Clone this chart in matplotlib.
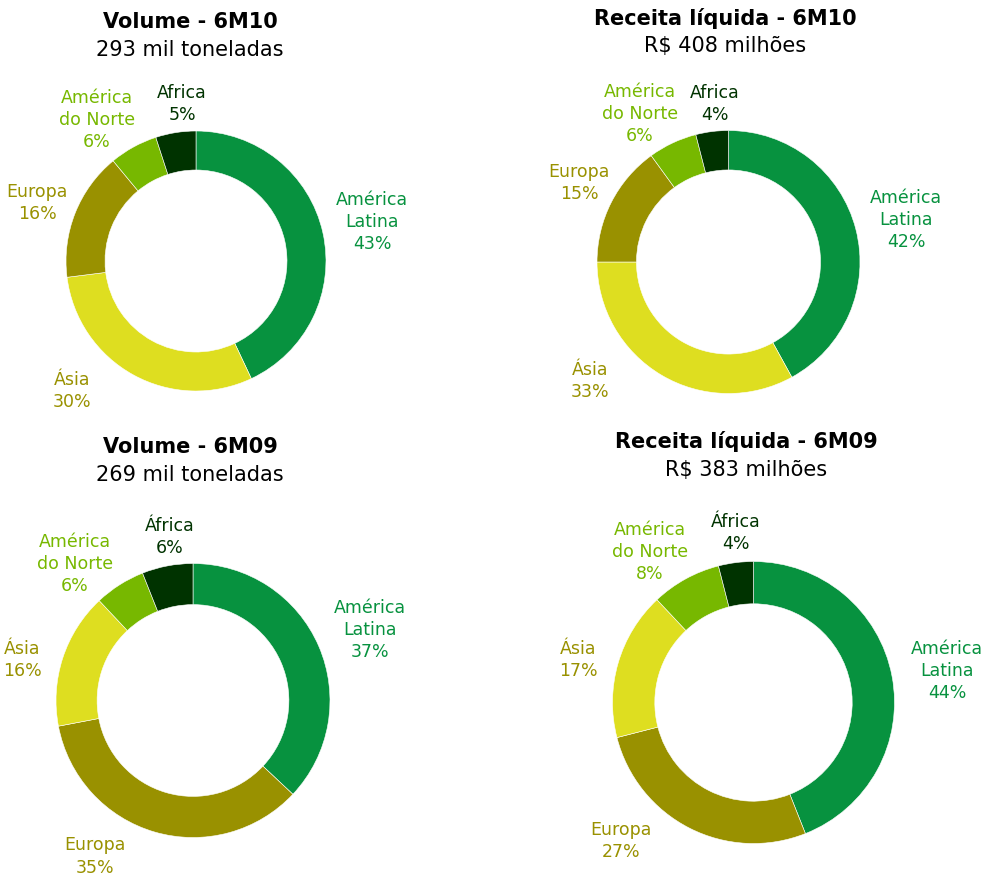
import matplotlib
matplotlib.use("Agg")
import matplotlib.pyplot as plt

# ---------------- data ----------------
titles = ["Volume - 6M10", "Receita líquida - 6M10", "Volume - 6M09", "Receita líquida - 6M09"]
subtitles = ["293 mil toneladas", "R$ 408 milhões", "269 mil toneladas", "R$ 383 milhões"]

labels_vol10 = ["América\nLatina", "Ásia", "Europa", "América\ndo Norte", "Africa"]
values_vol10 = [43, 30, 16, 6, 5]

labels_rec10 = ["América\nLatina", "Ásia", "Europa", "América\ndo Norte", "Africa"]
values_rec10 = [42, 33, 15, 6, 4]

labels_vol09 = ["América\nLatina", "Europa", "Ásia", "América\ndo Norte", "África"]
values_vol09 = [37, 35, 16, 6, 6]

labels_rec09 = ["América\nLatina", "Europa", "Ásia", "América\ndo Norte", "África"]
values_rec09 = [44, 27, 17, 8, 4]

# ---------------- styles ----------------
slice_colors = {"América\nLatina": "#07923F", "Ásia": "#DEDE20", "Europa": "#999100",
                "América\ndo Norte": "#77B800", "Africa": "#003300", "África": "#003300"}
label_colors = {"América\nLatina": "#07923F", "Ásia": "#999100", "Europa": "#999100",
                "América\ndo Norte": "#77B800", "Africa": "#003300", "África": "#003300"}

# ---------------- layout (pixels, y measured downward) ----------------
W, H = 988, 879
charts = [
    dict(labels=labels_vol10, values=values_vol10, center=(196, 262), r=130,
         title_xy=(190, 22), offsets=[(176, -40), (-124, 129), (-159, -59), (-99, -142), (-14, -158)]),
    dict(labels=labels_rec10, values=values_rec10, center=(728.5, 263), r=131.5,
         title_xy=(725, 18), offsets=[(177.5, -43), (-138.5, 118), (-149.5, -80), (-88.5, -149), (-13.5, -159)]),
    dict(labels=labels_vol09, values=values_vol09, center=(193, 701.5), r=137,
         title_xy=(190, 447), offsets=[(177, -71.5), (-98, 155), (-171, -41.5), (-118, -137.5), (-23, -164.5)]),
    dict(labels=labels_rec09, values=values_rec09, center=(753.5, 703.5), r=141,
         title_xy=(746, 442), offsets=[(193.5, -32.5), (-132.5, 137.5), (-175.5, -43.5), (-103.5, -151.5), (-17.5, -170.5)]),
]

fig = plt.figure(figsize=(W / 100, H / 100), dpi=100)
ax = fig.add_axes([0, 0, 1, 1])
ax.set_xlim(0, W)
ax.set_ylim(0, H)
ax.set_aspect("equal")
ax.axis("off")

for i, ch in enumerate(charts):
    cx, cy = ch["center"]
    cy_up = H - cy
    r = ch["r"]
    cols = [slice_colors[l] for l in ch["labels"]]
    ax.pie(ch["values"], colors=cols, startangle=90, counterclock=False,
           center=(cx, cy_up), radius=r,
           wedgeprops=dict(width=r * 0.3, edgecolor="white", linewidth=0.4))
    for lab, val, (dx, dy) in zip(ch["labels"], ch["values"], ch["offsets"]):
        ax.text(cx + dx, cy_up - dy, f"{lab}\n{val}%", ha="center", va="center",
                multialignment="center", fontsize=12.5, linespacing=1.3,
                color=label_colors[lab])
    tx, ty = ch["title_xy"]
    ax.text(tx, H - ty, titles[i], ha="center", va="center", fontsize=15,
            fontweight="bold", color="black")
    ax.text(tx, H - ty - 28, subtitles[i], ha="center", va="center", fontsize=15,
            color="black")

ax.set_xlim(0, W)
ax.set_ylim(0, H)
fig.savefig("out.png", dpi=100)
